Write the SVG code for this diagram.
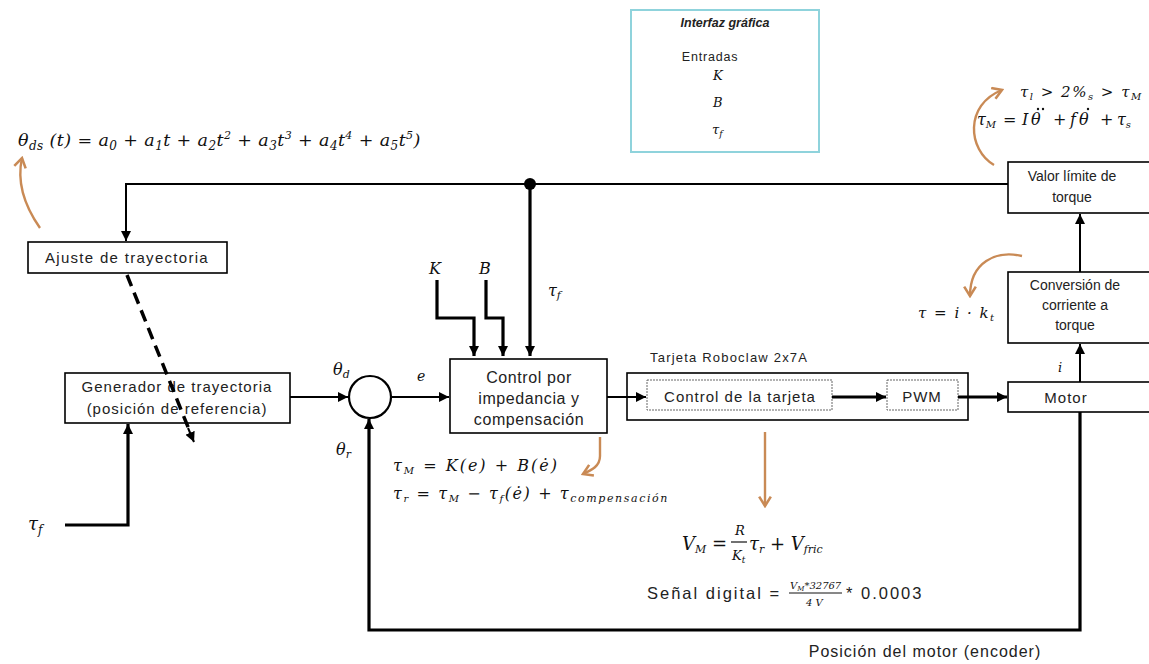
<svg xmlns="http://www.w3.org/2000/svg" width="1149" height="664" viewBox="0 0 1149 664">
<style>
.box{fill:#fff;stroke:#000;stroke-width:1.6}
.t{font-family:"Liberation Sans",Arial,sans-serif;font-size:14px;fill:#222;text-anchor:middle}
.w{font-size:15px;letter-spacing:1px}
.m{font-family:"DejaVu Serif","Liberation Serif",serif;font-style:italic;font-size:16px;fill:#111}
.ln{fill:none;stroke:#000;stroke-width:2}
.thk{fill:none;stroke:#000;stroke-width:3.2}
.or{fill:none;stroke:#c98a55;stroke-width:2.4}
</style>
<defs>
<marker id="arr" viewBox="0 0 10 10" refX="10" refY="5" markerWidth="10" markerHeight="10" markerUnits="userSpaceOnUse" orient="auto">
<path d="M0,0 L10,5 L0,10 Z" fill="#000"/>
</marker>
<marker id="arrO" viewBox="0 0 12 12" refX="10" refY="6" markerWidth="14" markerHeight="14" markerUnits="userSpaceOnUse" orient="auto">
<path d="M2,1 L10,6 L2,11" fill="none" stroke="#c98a55" stroke-width="2.2"/>
</marker>
</defs>
<rect width="1149" height="664" fill="#fff"/>

<g id="interfaz">
<rect x="631" y="10" width="188" height="142" fill="none" stroke="#8fd3dc" stroke-width="2"/>
<text x="725" y="27" class="t" style="font-size:12.5px;font-weight:bold;font-style:italic">Interfaz gráfica</text>
<text x="710" y="61" class="t" style="font-size:12.5px;letter-spacing:0.8px">Entradas</text>
<text x="713" y="80" class="m" style="font-size:13px">K</text>
<text x="713" y="107" class="m" style="font-size:13px">B</text>
<text x="712" y="134" class="m" style="font-size:13px">τ<tspan dy="3" font-size="9">f</tspan></text>
</g>

<g id="formula-trayectoria">
<text x="18" y="146" class="m" style="font-size:17.5px;letter-spacing:0.4px">θ<tspan dy="4" font-size="12">ds</tspan><tspan dy="-4"> (t) = a</tspan><tspan dy="4" font-size="12">0</tspan><tspan dy="-4"> + a</tspan><tspan dy="4" font-size="12">1</tspan><tspan dy="-4">t + a</tspan><tspan dy="4" font-size="12">2</tspan><tspan dy="-4">t</tspan><tspan dy="-7" font-size="11">2</tspan><tspan dy="7"> + a</tspan><tspan dy="4" font-size="12">3</tspan><tspan dy="-4">t</tspan><tspan dy="-7" font-size="11">3</tspan><tspan dy="7"> + a</tspan><tspan dy="4" font-size="12">4</tspan><tspan dy="-4">t</tspan><tspan dy="-7" font-size="11">4</tspan><tspan dy="7"> + a</tspan><tspan dy="4" font-size="12">5</tspan><tspan dy="-4">t</tspan><tspan dy="-7" font-size="11">5</tspan><tspan dy="7">)</tspan></text>
</g>

<g id="ajuste">
<rect x="28" y="242" width="199" height="31" class="box"/>
<text x="127" y="263" class="t w" style="letter-spacing:1.3px">Ajuste de trayectoria</text>
</g>

<g id="generador">
<rect x="65" y="373" width="225" height="50" class="box"/>
<text x="177" y="392" class="t w">Generador de trayectoria</text>
<text x="177" y="414" class="t w">(posición de referencia)</text>
</g>

<g id="suma">
<circle cx="370" cy="397" r="21" fill="#fff" stroke="#000" stroke-width="2.2"/>
</g>

<g id="control">
<rect x="450" y="359" width="157" height="74" class="box"/>
<text x="529" y="383" class="t" style="font-size:16px;letter-spacing:0.6px">Control por</text>
<text x="529" y="404" class="t" style="font-size:16px;letter-spacing:0.6px">impedancia y</text>
<text x="529" y="425" class="t" style="font-size:16px;letter-spacing:0.6px">compensación</text>
</g>

<g id="tarjeta">
<text x="650" y="362" class="t" style="text-anchor:start;font-size:13px;letter-spacing:1.2px">Tarjeta Roboclaw 2x7A</text>
<rect x="627" y="373" width="341" height="47" class="box"/>
<rect x="647" y="380" width="185" height="30" fill="#fff" stroke="#666" stroke-width="1" stroke-dasharray="2 1"/>
<text x="740" y="402" class="t w">Control de la tarjeta</text>
<rect x="887" y="380" width="71" height="30" fill="#fff" stroke="#666" stroke-width="1" stroke-dasharray="2 1"/>
<text x="922" y="402" class="t w">PWM</text>
</g>

<g id="motor">
<rect x="1008" y="382" width="160" height="30" class="box"/>
<text x="1066" y="403" class="t w">Motor</text>
</g>

<g id="conversion">
<rect x="1008" y="272" width="160" height="71" class="box"/>
<text x="1075" y="290" class="t">Conversión de</text>
<text x="1075" y="310" class="t">corriente a</text>
<text x="1075" y="330" class="t">torque</text>
</g>

<g id="valor">
<rect x="1008" y="162" width="160" height="51" class="box"/>
<text x="1072" y="181" class="t">Valor límite de</text>
<text x="1072" y="202" class="t">torque</text>
</g>

<g id="connectors">
<path class="ln" d="M1008,184 H126 V241" marker-end="url(#arr)"/>
<circle cx="530" cy="184" r="6" fill="#000"/>
<path class="thk" d="M530,184 V356" marker-end="url(#arr)"/>
<path class="thk" d="M437,280 V318 H474 V356" marker-end="url(#arr)"/>
<path class="thk" d="M486,280 V318 H503 V356" marker-end="url(#arr)"/>
<path class="ln" d="M290,397 H348" marker-end="url(#arr)"/>
<path class="ln" d="M391,397 H449" marker-end="url(#arr)"/>
<path class="ln" d="M607,397 H646" marker-end="url(#arr)"/>
<path class="thk" d="M832,397 H886" marker-end="url(#arr)"/>
<path class="thk" d="M958,397 H1007" marker-end="url(#arr)"/>
<path class="ln" d="M1080,382 V344" marker-end="url(#arr)"/>
<path class="ln" d="M1080,272 V214" marker-end="url(#arr)"/>
<path class="thk" d="M1080,412 V630 H369 V419" marker-end="url(#arr)"/>
<path class="thk" d="M65,525 H128 V424" marker-end="url(#arr)"/>
<path fill="none" stroke="#000" stroke-width="3.5" stroke-dasharray="12 7" d="M127,275 L190,432"/>
<path class="ln" d="M188,428 L194,442" marker-end="url(#arr)"/>
</g>

<g id="orange-arrows">
<path class="or" d="M40,228 C26,208 16,185 22,158" marker-end="url(#arrO)"/>
<path class="or" d="M994,165 C968,150 964,105 1002,90" marker-end="url(#arrO)"/>
<path class="or" d="M1022,256 C996,250 970,262 970,296" marker-end="url(#arrO)"/>
<path class="or" d="M600,437 V456 C600,466 592,470 583,474" marker-end="url(#arrO)"/>
<path class="or" d="M765,432 V506" marker-end="url(#arrO)"/>
</g>

<g id="labels">
<text x="333" y="375" class="m">θ<tspan dy="3" font-size="11">d</tspan></text>
<text x="336" y="455" class="m">θ<tspan dy="3" font-size="11">r</tspan></text>
<text x="417" y="381" class="m" style="font-size:14px">e</text>
<text x="429" y="274" class="m">K</text>
<text x="479" y="274" class="m">B</text>
<text x="548" y="296" class="m">τ<tspan dy="3" font-size="11">f</tspan></text>
<text x="28" y="530" class="m" style="font-size:18px">τ<tspan dy="4" font-size="12">f</tspan></text>
<text x="1058" y="372" class="m" style="font-size:13px">i</text>
<text x="1020" y="97" class="m" style="font-size:15px;letter-spacing:1.5px">τ<tspan dy="3" font-size="10">l</tspan><tspan dy="-3"> &gt; 2%</tspan><tspan dy="3" font-size="10">s</tspan><tspan dy="-3"> &gt; τ</tspan><tspan dy="3" font-size="10">M</tspan></text>
<text x="977" y="125" class="m" style="font-size:16px">τ<tspan dy="3" font-size="10">M</tspan><tspan x="1003" dy="-3">=</tspan><tspan x="1022">I</tspan><tspan x="1031">θ</tspan><tspan x="1053">+</tspan><tspan x="1070">f</tspan><tspan x="1079">θ</tspan><tspan x="1100">+</tspan><tspan x="1117">τ</tspan><tspan dy="3" font-size="10">s</tspan></text>
<circle cx="1038" cy="109" r="1.2" fill="#111"/>
<circle cx="1043" cy="109" r="1.2" fill="#111"/>
<circle cx="1088" cy="109" r="1.2" fill="#111"/>
<text x="918" y="318" class="m" style="font-size:15px;letter-spacing:1.5px">τ = i · k<tspan dy="3" font-size="10">t</tspan></text>
<text x="393" y="471" class="m" style="font-size:16px;letter-spacing:2px">τ<tspan dy="3" font-size="10">M</tspan><tspan dy="-3"> = K(e) + B(ė)</tspan></text>
<text x="393" y="499" class="m" style="font-size:16px;letter-spacing:1.6px">τ<tspan dy="3" font-size="10">r</tspan><tspan dy="-3"> = τ</tspan><tspan dy="3" font-size="10">M</tspan><tspan dy="-3"> − τ</tspan><tspan dy="3" font-size="10">f</tspan><tspan dy="-3">(ė) + τ</tspan><tspan dy="3" font-size="11">compensación</tspan></text>
<text x="682" y="550" class="m" style="font-size:18px">V<tspan dy="3" font-size="11">M</tspan><tspan dy="-3"> =</tspan></text>
<text x="735" y="535" class="m" style="font-size:13px">R</text>
<line x1="731" y1="542" x2="747" y2="542" stroke="#111" stroke-width="1.2"/>
<text x="732" y="560" class="m" style="font-size:13px">K<tspan dy="3" font-size="9">t</tspan></text>
<text x="749" y="550" class="m" style="font-size:18px">τ<tspan dy="3" font-size="11">r</tspan><tspan dy="-3"> + V</tspan><tspan dy="3" font-size="11">fric</tspan></text>
<text x="647" y="599" class="t" style="text-anchor:start;font-size:16.5px;letter-spacing:2px">Señal digital =</text>
<text x="790" y="589" class="m" style="font-size:10px">V<tspan dy="2" font-size="7">M</tspan><tspan dy="-2">*32767</tspan></text>
<line x1="789" y1="593" x2="842" y2="593" stroke="#111" stroke-width="1"/>
<text x="806" y="606" class="m" style="font-size:10px">4 V</text>
<text x="846" y="599" class="t" style="text-anchor:start;font-size:16.5px;letter-spacing:2px">* 0.0003</text>
<text x="925" y="657" class="t" style="font-size:16px;letter-spacing:1px">Posición del motor (encoder)</text>
</g>
</svg>
